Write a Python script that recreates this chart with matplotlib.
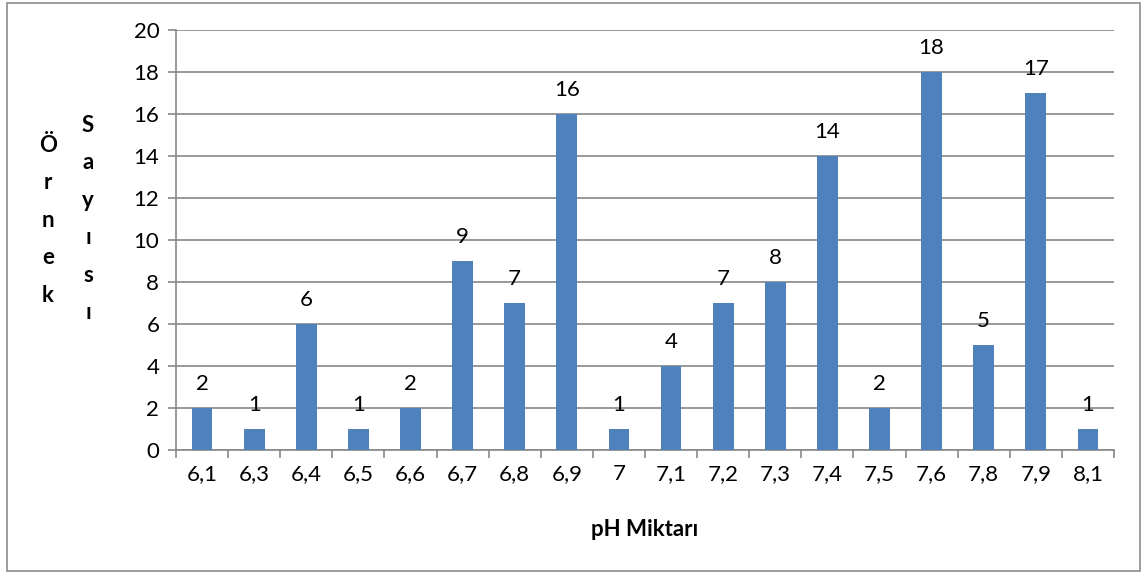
import matplotlib
matplotlib.use("Agg")
import matplotlib.pyplot as plt
from matplotlib.patches import Rectangle

plt.rcParams['font.family'] = ['Lato', 'DejaVu Sans']

ph_labels = ["6,1", "6,3", "6,4", "6,5", "6,6", "6,7", "6,8", "6,9", "7",
             "7,1", "7,2", "7,3", "7,4", "7,5", "7,6", "7,8", "7,9", "8,1"]
counts = [2, 1, 6, 1, 2, 9, 7, 16, 1, 4, 7, 8, 14, 2, 18, 5, 17, 1]

bar_color = "#4F81BD"
grid_color = "#888888"
fs = 16

fig = plt.figure(figsize=(11.44, 5.74), dpi=100)
ax = fig.add_axes([176 / 1144, 1 - 450 / 574, (1114 - 176) / 1144, 420 / 574])

x = list(range(len(counts)))
bars = ax.bar(x, counts, width=0.4, color=bar_color, zorder=3)
for xi, v in zip(x, counts):
    ax.annotate(str(v), (xi, v), xytext=(0, 10), textcoords="offset points",
                ha="center", va="bottom", fontsize=fs, zorder=4)

ax.set_xlim(-0.5, len(counts) - 0.5)
ax.set_ylim(0, 20)
ax.set_yticks(range(0, 21, 2))
ax.yaxis.grid(True, color=grid_color, linewidth=1.2, zorder=0)
ax.set_axisbelow(True)

# category labels centred under bars, tick marks on the boundaries
ax.set_xticks(x)
ax.set_xticklabels(ph_labels, fontsize=fs)
ax.tick_params(axis="x", length=0, pad=10)
ax.set_xticks([i - 0.5 for i in range(len(counts) + 1)], minor=True)
ax.tick_params(axis="x", which="minor", length=6, width=1.2, color=grid_color,
               direction="out")
ax.tick_params(axis="y", length=6, width=1.2, color=grid_color, labelsize=fs,
               pad=6)

for side in ["top", "right"]:
    ax.spines[side].set_visible(False)
for side in ["left", "bottom"]:
    ax.spines[side].set_color(grid_color)
    ax.spines[side].set_linewidth(1.2)

fig.text(645 / 1144, 1 - 530 / 574, "pH Miktarı", ha="center", va="center",
         fontsize=fs, fontweight="bold")

# vertical y-axis title, one letter per line
fig.text(48 / 1144, 1 - 135 / 574, "\n".join("Örnek"), ha="center", va="top",
         fontsize=fs, fontweight="bold", linespacing=1.97)
fig.text(88 / 1144, 1 - 115 / 574, "\n".join("Sayısı"), ha="center", va="top",
         fontsize=fs, fontweight="bold", linespacing=1.97)

fig.patches.append(Rectangle((7 / 1144, 3 / 574), 1133 / 1144, 568 / 574,
                             transform=fig.transFigure, fill=False,
                             edgecolor="#8c8c8c", linewidth=1.2))

fig.savefig("out.png", dpi=100)
